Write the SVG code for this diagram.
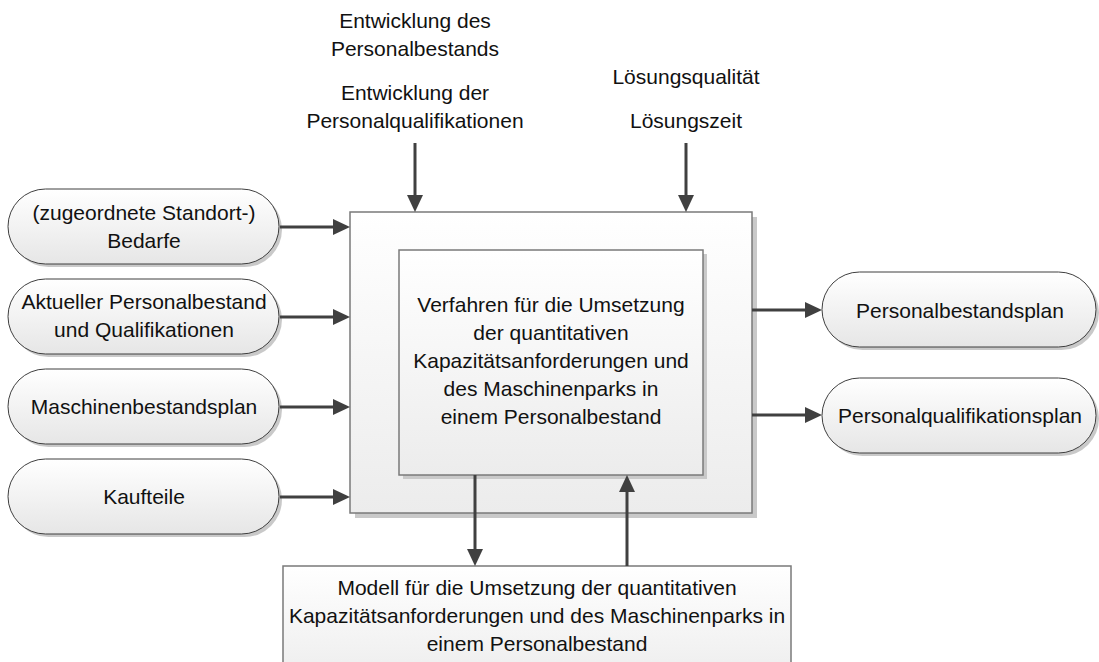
<svg xmlns="http://www.w3.org/2000/svg" width="1099" height="662" viewBox="0 0 1099 662">
  <style>
    .txt { font-family: "Liberation Sans", Arial, sans-serif; font-size: 21px; fill: #111; text-anchor: middle; }
    .pill { fill: url(#gradPill); stroke: #3f3f3f; stroke-width: 1; }
    .box { fill: url(#gradBox); stroke: #7a7a7a; stroke-width: 1.5; }
    .shadow { fill: #c9c9c9; }
    .conn { fill: none; stroke: #404040; stroke-width: 3; marker-end: url(#arrow); }
    .plain { fill: none; stroke: #404040; stroke-width: 3; }
  </style>
  <defs>
    <linearGradient id="gradPill" x1="0" y1="0" x2="0" y2="1">
      <stop offset="0" stop-color="#ffffff"/>
      <stop offset="1" stop-color="#e6e6e6"/>
    </linearGradient>
    <linearGradient id="gradBox" x1="0" y1="0" x2="0" y2="1">
      <stop offset="0" stop-color="#ffffff"/>
      <stop offset="1" stop-color="#ececec"/>
    </linearGradient>
    <marker id="arrow" viewBox="0 0 17 16" refX="13" refY="8" markerWidth="17" markerHeight="16" markerUnits="userSpaceOnUse" orient="auto">
      <path d="M0,0 L17,8 L0,16 Z" fill="#404040"/>
    </marker>
  </defs>

  <!-- outer process box -->
  <g id="process-outer">
    <rect class="shadow" x="355" y="217" width="402" height="301"/>
    <rect class="box" x="350" y="212" width="402" height="301"/>
  </g>

  <!-- inner procedure box -->
  <g id="procedure">
    <rect class="shadow" x="403" y="254" width="304" height="225"/>
    <rect class="box" x="399" y="250" width="304" height="225"/>
    <text class="txt" x="551" y="312">Verfahren für die Umsetzung</text>
    <text class="txt" x="551" y="340">der quantitativen</text>
    <text class="txt" x="551" y="368">Kapazitätsanforderungen und</text>
    <text class="txt" x="551" y="396">des Maschinenparks in</text>
    <text class="txt" x="551" y="424">einem Personalbestand</text>
  </g>

  <!-- model box -->
  <g id="model">
    <rect class="box" x="283" y="566" width="508" height="120"/>
    <text class="txt" x="537" y="595">Modell für die Umsetzung der quantitativen</text>
    <text class="txt" x="537" y="623">Kapazitätsanforderungen und des Maschinenparks in</text>
    <text class="txt" x="537" y="651">einem Personalbestand</text>
  </g>

  <!-- inputs -->
  <g id="in-bedarfe">
    <rect class="shadow" x="11" y="192" width="271" height="75" rx="37.5"/>
    <rect class="pill" x="8" y="189" width="271" height="75" rx="37.5"/>
    <text class="txt" x="144" y="220">(zugeordnete Standort-)</text>
    <text class="txt" x="144" y="248">Bedarfe</text>
  </g>
  <g id="in-personalbestand">
    <rect class="shadow" x="11" y="282" width="271" height="75" rx="37.5"/>
    <rect class="pill" x="8" y="279" width="271" height="75" rx="37.5"/>
    <text class="txt" x="144" y="309">Aktueller Personalbestand</text>
    <text class="txt" x="144" y="337">und Qualifikationen</text>
  </g>
  <g id="in-maschinen">
    <rect class="shadow" x="11" y="372" width="271" height="75" rx="37.5"/>
    <rect class="pill" x="8" y="369" width="271" height="75" rx="37.5"/>
    <text class="txt" x="144" y="414">Maschinenbestandsplan</text>
  </g>
  <g id="in-kaufteile">
    <rect class="shadow" x="11" y="462" width="271" height="75" rx="37.5"/>
    <rect class="pill" x="8" y="459" width="271" height="75" rx="37.5"/>
    <text class="txt" x="144" y="504">Kaufteile</text>
  </g>

  <!-- outputs -->
  <g id="out-bestandsplan">
    <rect class="shadow" x="825" y="275" width="274" height="75" rx="37.5"/>
    <rect class="pill" x="822" y="272" width="274" height="75" rx="37.5"/>
    <text class="txt" x="960" y="318">Personalbestandsplan</text>
  </g>
  <g id="out-qualifikationsplan">
    <rect class="shadow" x="825" y="381" width="274" height="75" rx="37.5"/>
    <rect class="pill" x="822" y="378" width="274" height="75" rx="37.5"/>
    <text class="txt" x="960" y="423">Personalqualifikationsplan</text>
  </g>

  <!-- controls -->
  <g id="ctrl-entwicklung">
    <text class="txt" x="415" y="28">Entwicklung des</text>
    <text class="txt" x="415" y="56">Personalbestands</text>
    <text class="txt" x="415" y="100">Entwicklung der</text>
    <text class="txt" x="415" y="128">Personalqualifikationen</text>
  </g>
  <g id="ctrl-loesung">
    <text class="txt" x="686" y="84">Lösungsqualität</text>
    <text class="txt" x="686" y="128">Lösungszeit</text>
  </g>

  <!-- connectors -->
  <g id="connectors">
    <path class="conn" d="M280,227 H346"/>
    <path class="conn" d="M280,317 H346"/>
    <path class="conn" d="M280,407 H346"/>
    <path class="conn" d="M280,497 H346"/>
    <path class="conn" d="M752,310 H818"/>
    <path class="conn" d="M752,415 H818"/>
    <path class="conn" d="M415,143 V208"/>
    <path class="conn" d="M686,143 V208"/>
    <path class="conn" d="M475,475 V562"/>
    <path class="conn" d="M627,566 V479"/>
  </g>
</svg>
